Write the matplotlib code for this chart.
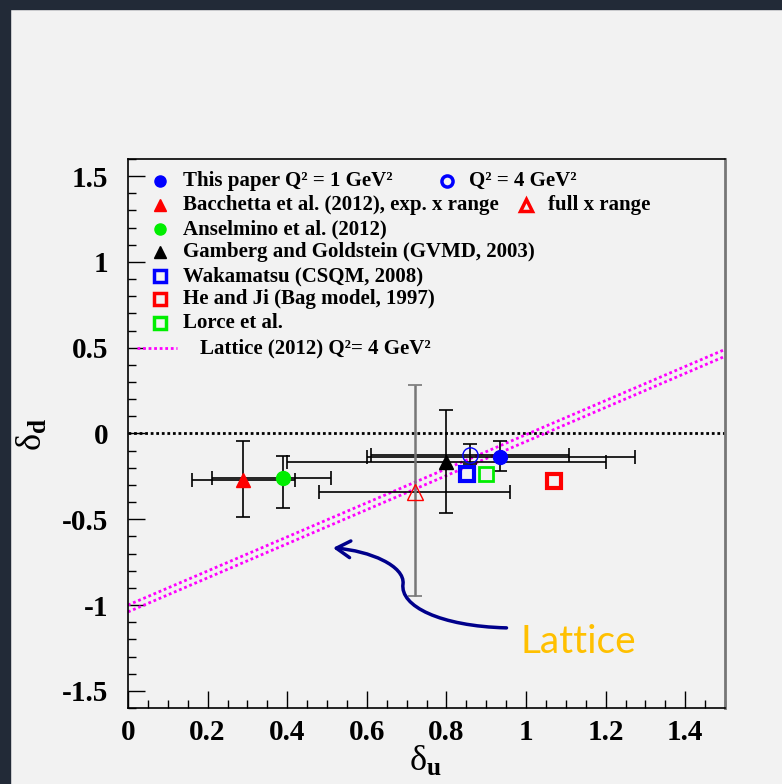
import matplotlib
matplotlib.use("Agg")
import matplotlib.pyplot as plt
from matplotlib.patches import Rectangle, FancyArrowPatch
from matplotlib.path import Path

plt.rcParams['font.family'] = 'Liberation Serif'
plt.rcParams['mathtext.fontset'] = 'custom'
plt.rcParams['mathtext.rm'] = 'Liberation Serif'
plt.rcParams['mathtext.it'] = 'Liberation Serif'
plt.rcParams['mathtext.bf'] = 'Liberation Serif:bold'

# data (delta_u, delta_d) with errors
paper1_u, paper1_d = [0.935], [-0.135]
paper1_uerr = [[0.335], [0.34]]
paper1_derr = [[0.085], [0.09]]

paper4_u, paper4_d = [0.86], [-0.123]
paper4_uerr = [[0.25], [0.248]]
paper4_derr = [[0.052], [0.06]]

bacc_exp_u, bacc_exp_d = [0.29], [-0.27]
bacc_exp_uerr = [[0.13], [0.13]]
bacc_exp_derr = [[0.215], [0.225]]

bacc_full_u, bacc_full_d = [0.72], [-0.34]
bacc_full_uerr = [[0.24], [0.24]]
bacc_full_derr = [[0.61], [0.62]]

ansel_u, ansel_d = [0.39], [-0.257]
ansel_uerr = [[0.18], [0.12]]
ansel_derr = [[0.18], [0.123]]

gamb_u, gamb_d = [0.80], [-0.164]
gamb_uerr = [[0.40], [0.40]]
gamb_derr = [[0.30], [0.30]]

waka_u, waka_d = [0.851], [-0.234]
heji_u, heji_d = [1.07], [-0.275]
lorce_u, lorce_d = [0.90], [-0.234]

lattice_u = [0.0, 1.5]
lattice_d_hi = [-1.00, 0.49]
lattice_d_lo = [-1.04, 0.45]

bg = '#f2f2f2'
fig = plt.figure(figsize=(7.82, 7.84), dpi=100, facecolor=bg)
fig.add_artist(Rectangle((0, 0), 10/782, 1, transform=fig.transFigure, color='#222a37', zorder=0))
fig.add_artist(Rectangle((0, 1-9/784), 1, 9/784, transform=fig.transFigure, color='#222a37', zorder=0))

ax = fig.add_axes([128/782, 1-708/784, 597/782, 549/784])
ax.set_facecolor(bg)
ax.set_xlim(0, 1.5)
ax.set_ylim(-1.6, 1.6)

ax.axhline(0, color='black', ls=(0, (1, 1)), lw=2)
ax.plot(lattice_u, lattice_d_hi, color='#ff00ff', ls=(0, (1, 1)), lw=2)
ax.plot(lattice_u, lattice_d_lo, color='#ff00ff', ls=(0, (1, 1)), lw=2)

eb = dict(fmt='none', ecolor='black', elinewidth=1.2, capsize=5, capthick=1.2)
ax.errorbar(bacc_exp_u, bacc_exp_d, xerr=bacc_exp_uerr, yerr=bacc_exp_derr, **eb)
ax.errorbar(ansel_u, ansel_d, xerr=ansel_uerr, yerr=ansel_derr, **eb)
ax.errorbar(gamb_u, gamb_d, xerr=gamb_uerr, yerr=gamb_derr, **eb)
ax.errorbar(paper1_u, paper1_d, xerr=paper1_uerr, yerr=paper1_derr, **eb)
ax.errorbar(paper4_u, paper4_d, xerr=paper4_uerr, yerr=paper4_derr, **eb)
ax.errorbar(bacc_full_u, bacc_full_d, xerr=bacc_full_uerr, **eb)
ax.errorbar(bacc_full_u, bacc_full_d, yerr=bacc_full_derr, fmt='none', ecolor='#777777',
            elinewidth=1.8, capsize=5, capthick=1.2)

ax.plot(bacc_exp_u, bacc_exp_d, '^', color='red', ms=10, zorder=5)
ax.plot(ansel_u, ansel_d, 'o', color='#00ee00', ms=10, zorder=5)
ax.plot(gamb_u, gamb_d, '^', color='black', ms=10, zorder=5)
ax.plot(paper1_u, paper1_d, 'o', color='blue', ms=10, zorder=5)
ax.plot(paper4_u, paper4_d, 'o', mfc='none', mec='blue', mew=1, ms=11, zorder=5)
ax.plot(bacc_full_u, bacc_full_d, '^', mfc='none', mec='red', mew=1, ms=11, zorder=5)
ax.plot(waka_u, waka_d, 's', mfc='none', mec='blue', mew=3, ms=10, zorder=5)
ax.plot(heji_u, heji_d, 's', mfc='none', mec='red', mew=3, ms=10, zorder=5)
ax.plot(lorce_u, lorce_d, 's', mfc='none', mec='#00ee00', mew=2, ms=10, zorder=5)

# legend drawn by hand (axes pixel layout like ROOT TLegend)
def px(xp, yp):
    return ((xp - 128) / 597, (708 - yp) / 549)

lfont = dict(fontsize=15, fontweight='bold', va='center', ha='left', transform=ax.transAxes)
rows = [181, 205, 229, 252, 276, 299, 323, 348]
entries = [
    ('o', dict(color='blue'), 'This paper Q² = 1 GeV²'),
    ('^', dict(color='red'), 'Bacchetta et al. (2012), exp. x range'),
    ('o', dict(color='#00ee00'), 'Anselmino et al. (2012)'),
    ('^', dict(color='black'), 'Gamberg and Goldstein (GVMD, 2003)'),
    ('s', dict(mfc='none', mec='blue', mew=2.5), 'Wakamatsu (CSQM, 2008)'),
    ('s', dict(mfc='none', mec='red', mew=2.5), 'He and Ji (Bag model, 1997)'),
    ('s', dict(mfc='none', mec='#00ee00', mew=2.5), 'Lorce et al.'),
]
for (m, kw, label), yp in zip(entries, rows):
    mx, my = px(160, yp)
    ax.plot([mx], [my], m, ms=8, transform=ax.transAxes, clip_on=False, **kw)
    tx, ty = px(183, yp)
    ax.text(tx, ty, label, **lfont)

mx, my = px(447, rows[0])
ax.plot([mx], [my], 'o', mfc='none', mec='blue', mew=2.5, ms=8, transform=ax.transAxes)
tx, ty = px(469, rows[0])
ax.text(tx, ty, 'Q² = 4 GeV²', **lfont)
mx, my = px(526, rows[1])
ax.plot([mx], [my], '^', mfc='none', mec='red', mew=2.5, ms=8, transform=ax.transAxes)
tx, ty = px(548, rows[1])
ax.text(tx, ty, 'full x range', **lfont)
x0, y0 = px(137, rows[7])
x1, _ = px(177, rows[7])
ax.plot([x0, x1], [y0, y0], color='#ff00ff', ls=(0, (1, 1)), lw=2, transform=ax.transAxes)
tx, ty = px(200, rows[7])
ax.text(tx, ty, 'Lattice (2012) Q²= 4 GeV²', **lfont)

# curved arrow pointing at the lattice band
verts = [(0.951, -1.133), (0.784, -1.123), (0.683, -1.006), (0.691, -0.877),
         (0.696, -0.772), (0.608, -0.684), (0.515, -0.667)]
codes = [Path.MOVETO] + [Path.CURVE4] * 6
arrow = FancyArrowPatch(path=Path(verts, codes), arrowstyle='->,head_length=10,head_width=6',
                        color='#00008b', lw=2.5, mutation_scale=1)
ax.add_patch(arrow)
ax.text(0.985, -1.215, 'Lattice', color='#ffc000', fontsize=28, family='Lato', ha='left', va='center')

ax.set_xticks([0, 0.2, 0.4, 0.6, 0.8, 1.0, 1.2, 1.4])
ax.set_xticklabels(['0', '0.2', '0.4', '0.6', '0.8', '1', '1.2', '1.4'])
ax.set_yticks([-1.5, -1, -0.5, 0, 0.5, 1, 1.5])
ax.set_yticklabels(['-1.5', '-1', '-0.5', '0', '0.5', '1', '1.5'])
ax.set_xticks([i * 0.05 for i in range(31)], minor=True)
ax.set_yticks([-1.6 + i * 0.1 for i in range(33)], minor=True)
ax.tick_params(which='major', direction='in', length=12, width=1, labelsize=21, pad=8)
ax.tick_params(which='minor', direction='in', length=6, width=1)
ax.tick_params(axis='y', pad=14)
for lab in ax.get_xticklabels() + ax.get_yticklabels():
    lab.set_fontweight('bold')
for s in ax.spines.values():
    s.set_linewidth(1.2)
ax.spines['right'].set_color('#777777')
ax.spines['right'].set_linewidth(2)

fig.text(425/782, 1-762/784, '$\\delta_{\\mathbf{u}}$', fontsize=26, ha='center', va='center')
fig.text(33/782, 1-435/784, '$\\delta_{\\mathbf{d}}$', fontsize=26, ha='center', va='center', rotation=90)

fig.savefig('out.png', dpi=100, facecolor=bg)
